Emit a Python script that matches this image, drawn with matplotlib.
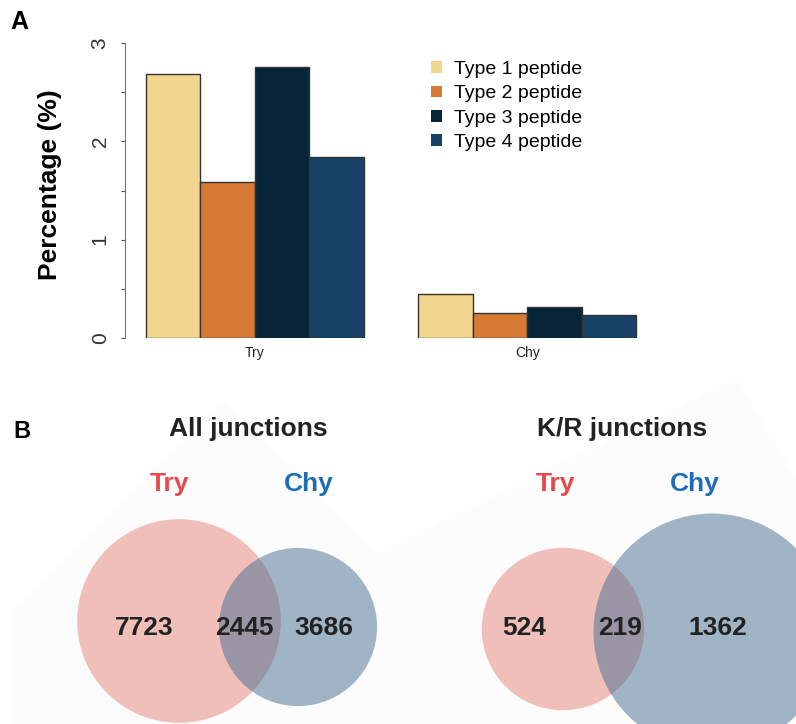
import matplotlib.pyplot as plt
from matplotlib.patches import Circle, Polygon, Patch
import numpy as np

plt.rcParams['font.family'] = ['Liberation Sans', 'DejaVu Sans']

# --- данные панели A ---
groups = ['Try', 'Chy']
types = ['Type 1 peptide', 'Type 2 peptide', 'Type 3 peptide', 'Type 4 peptide']
pct_try = [2.68, 1.59, 2.76, 1.84]
pct_chy = [0.45, 0.25, 0.32, 0.23]
bar_colors = ['#F2D58E', '#D77B34', '#062539', '#174166']

# --- данные панели B ---
venn_titles = ['All junctions', 'K/R junctions']
all_counts = [7723, 2445, 3686]   # только Try, общие, только Chy
kr_counts = [524, 219, 1362]

W, H = 796, 724
fig = plt.figure(figsize=(W / 100, H / 100), dpi=100)

# подложка в пикселях для панели B и подписей
ov = fig.add_axes([0, 0, 1, 1], zorder=0)
ov.set_xlim(0, W)
ov.set_ylim(H, 0)
ov.axis('off')
ov.patch.set_alpha(0)

# бледные фоновые многоугольники
ov.add_patch(Polygon([(223, 398), (420, 595), (420, 724), (12, 724), (12, 609)],
                     closed=True, color='#fcfcfc', lw=0, zorder=0))
ov.add_patch(Polygon([(380, 552), (737, 378), (796, 480), (796, 724), (380, 724)],
                     closed=True, color='#fcfcfc', lw=0, zorder=0))

# --- панель A ---
ax = fig.add_axes([125 / W, (H - 338) / H, 535 / W, 295 / H], zorder=1)
ax.patch.set_alpha(0)
x_try = 1.5 + np.arange(4)
x_chy = 6.5 + np.arange(4)
ax.bar(x_try, pct_try, width=1, color=bar_colors, edgecolor='#333333', lw=1)
ax.bar(x_chy, pct_chy, width=1, color=bar_colors, edgecolor='#333333', lw=1)
ax.set_xlim(0.615, 0.615 + 535 / 54.5)
ax.set_ylim(0, 3)
for s in ['top', 'right', 'bottom']:
    ax.spines[s].set_visible(False)
ax.spines['left'].set_color('#777777')
ax.spines['left'].set_bounds(0, 3)
ax.set_yticks(np.arange(0, 3.01, 0.5))
ax.set_yticklabels(['0', '', '1', '', '2', '', '3'], rotation=90, va='center',
                   fontsize=15, color='#333333')
ax.tick_params(axis='y', length=3, color='#555555', pad=8)
ax.set_xticks([3, 8])
ax.set_xticklabels(groups, fontsize=10, color='#222222')
ax.tick_params(axis='x', length=0, pad=6)
ax.set_ylabel('Percentage (%)', fontsize=19, fontweight='bold')
ax.yaxis.set_label_coords(-63 / 535, (338 - 185) / 295)

handles = [Patch(facecolor=c, edgecolor='none') for c in bar_colors]
fig.legend(handles, types, loc='upper left', bbox_to_anchor=(431 / W, 1 - 61 / H),
           frameon=False, fontsize=14, handlelength=0.55, handleheight=0.55,
           handletextpad=0.65, labelspacing=0.38, borderpad=0, borderaxespad=0)

ov.text(19, 22, 'A', fontsize=18, fontweight='bold', ha='center', va='center')
ov.text(22, 432, 'B', fontsize=17, fontweight='bold', ha='center', va='center')

# --- панель B: диаграммы Венна ---
try_col = '#E8837A'
chy_col = '#456D91'
venns = [
    dict(counts=all_counts, title=venn_titles[0], cx=248, k=1.01,
         c_try=(179, 621), c_chy=(298, 627),
         lab_try=169, lab_chy=309, nums=[144, 244, 324]),
    dict(counts=kr_counts, title=venn_titles[1], cx=622, k=2.98,
         c_try=(563, 629), c_chy=(712, 632),
         lab_try=555, lab_chy=695, nums=[524, 620, 718]),
]
for v in venns:
    a, b, c = v['counts']
    r_try = v['k'] * np.sqrt(a + b)
    r_chy = v['k'] * np.sqrt(b + c)
    ov.add_patch(Circle(v['c_try'], r_try, color=try_col, alpha=0.5, lw=0, zorder=2))
    ov.add_patch(Circle(v['c_chy'], r_chy, color=chy_col, alpha=0.5, lw=0, zorder=3))
    ov.text(v['cx'], 436, v['title'], fontsize=19, fontweight='bold',
            ha='center', va='baseline', color='#222222')
    ov.text(v['lab_try'], 491, 'Try', fontsize=19, fontweight='bold',
            ha='center', va='baseline', color='#E8474C')
    ov.text(v['lab_chy'], 491, 'Chy', fontsize=19, fontweight='bold',
            ha='center', va='baseline', color='#1C6DB6')
    for xn, n in zip(v['nums'], v['counts']):
        ov.text(xn, 635, str(n), fontsize=19, fontweight='bold',
                ha='center', va='baseline', color='#222222', zorder=5)

fig.savefig('out.png', dpi=100)
